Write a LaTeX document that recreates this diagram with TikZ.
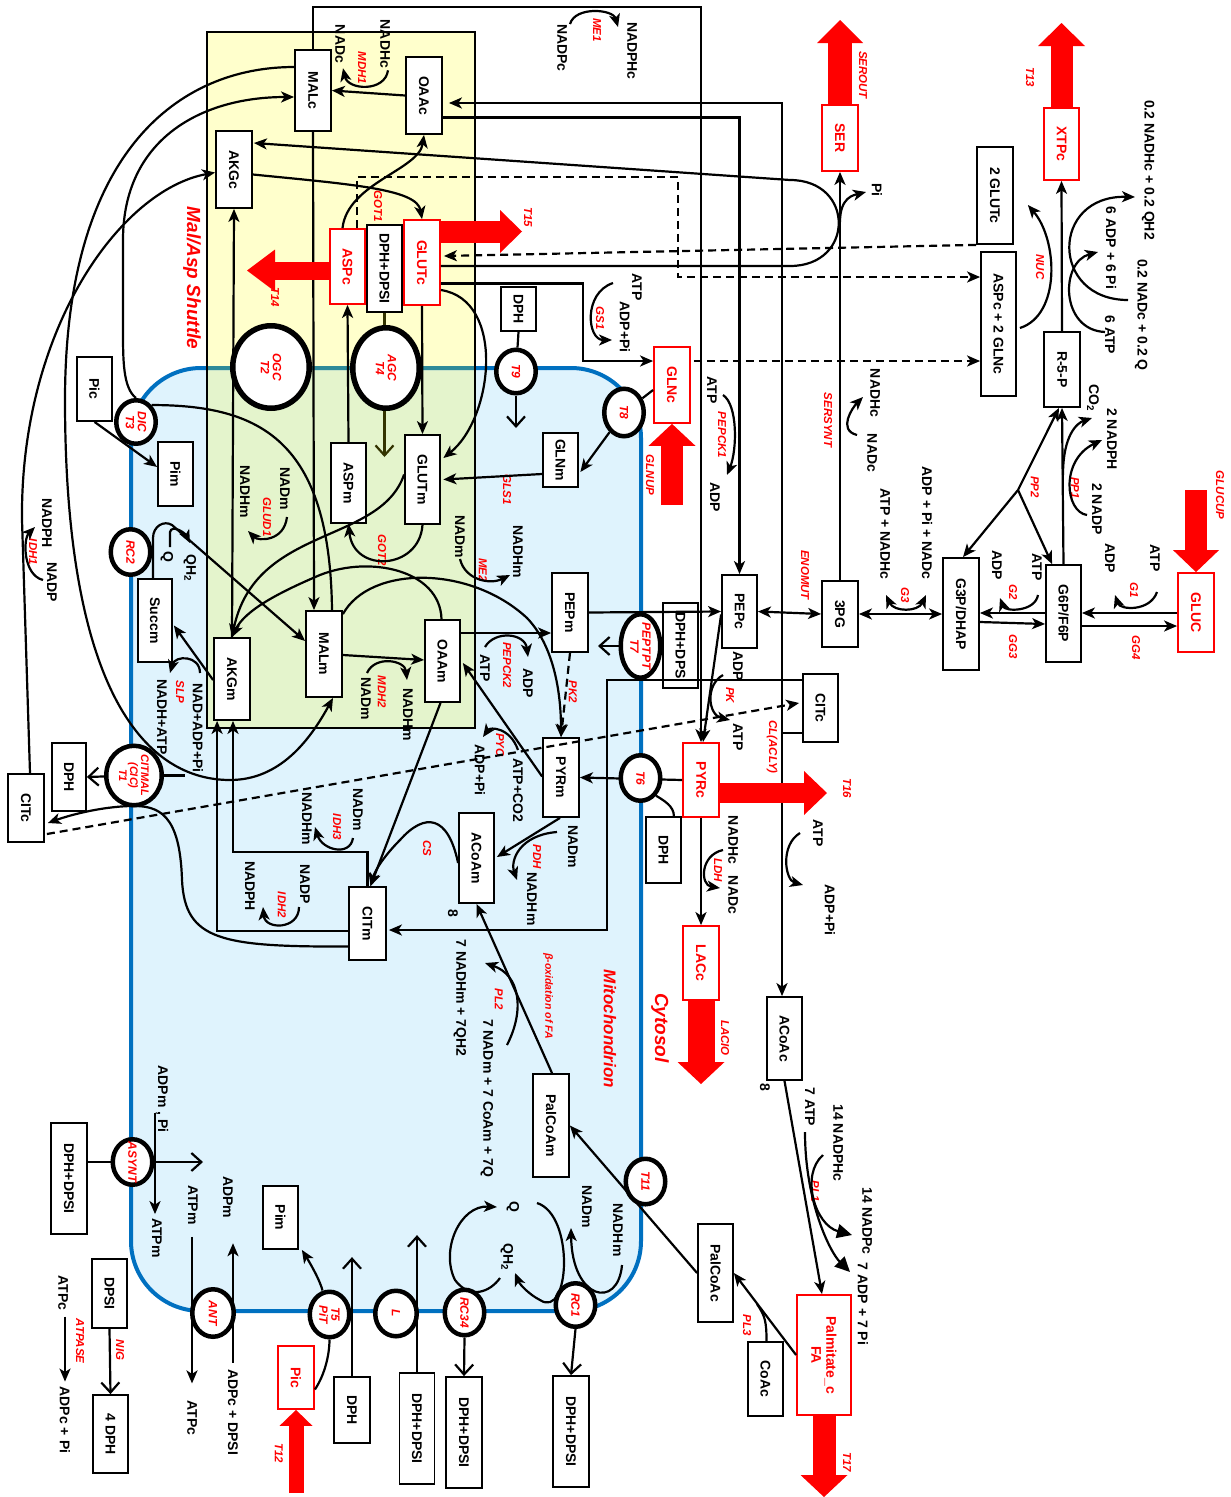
\documentclass[tikz,border=0pt]{standalone}
\usepackage{fontspec}
\setmainfont{Liberation Sans}
\usetikzlibrary{calc, positioning}
\usetikzlibrary{arrows.meta}
\usetikzlibrary{shapes.geometric}

\definecolor{shuttlebg}{HTML}{FFFFCC}
\definecolor{mitobg}{HTML}{DFF3FD}
\definecolor{overlapbg}{HTML}{E4F4CC}
\definecolor{mitoline}{HTML}{0070C0}
\definecolor{mixline}{HTML}{2E8A99}
\definecolor{olivetip}{HTML}{333300}

\pgfdeclarelayer{front}
\pgfsetlayers{main,front}

\tikzset{
  met/.style={draw, line width=1.8pt, fill=white, rotate=-90, inner sep=0pt,
    font=\bfseries\fontsize{14}{15}\selectfont},
  redmet/.style={met, draw=red, text=red},
  carrier/.style={ellipse, draw, line width=4.5pt, fill=white, inner sep=0pt},
  ctext/.style={rotate=-90, text=red, align=center, inner sep=0pt,
    font=\bfseries\itshape\fontsize{12}{12}\selectfont},
  lbl/.style={rotate=-90, inner sep=0pt, font=\bfseries\fontsize{14}{15}\selectfont},
  enz/.style={rotate=-90, inner sep=0pt, text=red,
    font=\bfseries\itshape\fontsize{11.5}{12}\selectfont},
  conn/.style={line width=2.2pt},
  arr/.style={conn, -{Stealth[length=13pt,width=11pt,inset=3.5pt]}},
  twoarr/.style={conn, {Stealth[length=13pt,width=11pt,inset=3.5pt]}-{Stealth[length=13pt,width=11pt,inset=3.5pt]}},
  openarr/.style={conn, -{Straight Barb[length=10pt,width=18pt]}},
  fatarr/.style={conn, -{Triangle[length=15pt,width=14pt]}},
  dasharr/.style={arr, dash pattern=on 8pt off 5pt},
  flux/.style args={#1/#2/#3}{red, line width=#1, -{Triangle[length=#2,width=#3,line width=0pt]}},
}

\begin{document}
\begin{tikzpicture}[x=1pt, y=-1pt]
\useasboundingbox (0,0) rectangle (1231,1497);

% compartments
\fill[shuttlebg] (207,32) rectangle (475,728);
\fill[mitobg, rounded corners=70pt] (131,368) rectangle (641,1311);
\fill[overlapbg] (207,368) rectangle (475,728);
\draw[mitoline, line width=4pt, rounded corners=70pt] (131,368) rectangle (641,1311);
\draw[mixline, line width=4pt] (207,368) -- (475,368);
\draw[line width=1.8pt] (207,32) rectangle (475,728);

\node[rotate=-90, text=red, font=\bfseries\itshape\fontsize{19}{20}\selectfont] (shuttle) at (192,278) {Mal/Asp Shuttle};
\node[rotate=-90, text=red, font=\bfseries\itshape\fontsize{17}{18}\selectfont] (mitoname) at (610,1029) {Mitochondrion};
\node[rotate=-90, text=red, font=\bfseries\itshape\fontsize{19}{20}\selectfont] (cytoname) at (660,1028) {Cytosol};

% metabolites
\node[met, minimum width=81pt, minimum height=36pt] (MALc) at (313,90.5) {MALc};
\node[met, minimum width=77pt, minimum height=36pt] (OAAc) at (424,95.5) {OAAc};
\node[met, minimum width=77pt, minimum height=36pt] (AKGc) at (234,169.5) {AKGc};
\node[redmet, minimum width=75pt, minimum height=35pt] (ASPc) at (347.5,266.5) {ASPc};
\node[met, minimum width=87pt, minimum height=35pt] (DPHDPSIa) at (384.5,268.5) {DPH+DPSI};
\node[redmet, minimum width=85pt, minimum height=36pt] (GLUTc) at (422,262.5) {GLUTc};
\node[met, minimum width=64pt, minimum height=35pt] (Pic) at (94.5,389) {Pic};
\node[met, minimum width=64pt, minimum height=35pt] (Pima) at (175.5,474) {Pim};
\node[met, minimum width=44pt, minimum height=35pt] (DPHa) at (518.5,309) {DPH};
\node[redmet, minimum width=76pt, minimum height=36pt] (GLNc) at (672,385) {GLNc};
\node[met, minimum width=54pt, minimum height=35pt] (GLNm) at (560.5,460) {GLNm};
\node[met, minimum width=89pt, minimum height=35pt] (GLUTm) at (422.5,479.5) {GLUTm};
\node[met, minimum width=80pt, minimum height=35pt] (ASPm) at (348.5,483) {ASPm};
\node[met, minimum width=86pt, minimum height=36pt] (MALm) at (324,654) {MALm};
\node[met, minimum width=82pt, minimum height=35pt] (OAAm) at (442.5,661) {OAAm};
\node[met, minimum width=82pt, minimum height=36pt] (AKGm) at (232,679) {AKGm};
\node[met, minimum width=83pt, minimum height=34pt] (Succm) at (155,620.5) {Succm};
\node[met, minimum width=68pt, minimum height=34pt] (DPHb) at (69,777) {DPH};
\node[met, minimum width=68pt, minimum height=36pt] (CITcL) at (26,808) {CITc};
\node[met, minimum width=73pt, minimum height=37pt] (CITm) at (367.5,923.5) {CITm};
\node[met, minimum width=79pt, minimum height=36pt] (PEPm) at (570,612.5) {PEPm};
\node[met, minimum width=79pt, minimum height=36pt] (PYRm) at (561,777.5) {PYRm};
\node[met, minimum width=90pt, minimum height=35pt] (ACoAm) at (476.5,858) {ACoAm};
\node[met, minimum width=85pt, minimum height=35pt] (DPHDPS) at (680.5,645.5) {DPH+DPS};
\node[met, minimum width=73pt, minimum height=35pt] (PEPc) at (739.5,611.5) {PEPc};
\node[redmet, minimum width=74pt, minimum height=36pt] (PYRc) at (701,780) {PYRc};
\node[met, minimum width=66pt, minimum height=35pt] (DPHc) at (663.5,850) {DPH};
\node[redmet, minimum width=74pt, minimum height=36pt] (LACc) at (701,963) {LACc};
\node[met, minimum width=68pt, minimum height=35pt] (CITcR) at (820.5,708) {CITc};
\node[met, minimum width=66pt, minimum height=36pt] (PG3) at (840,614) {3PG};
\node[met, minimum width=112pt, minimum height=36pt] (G3P) at (961,614) {G3P/DHAP};
\node[met, minimum width=97pt, minimum height=35pt] (G6P) at (1063.5,613.5) {G6P/F6P};
\node[redmet, minimum width=79pt, minimum height=36pt] (GLUC) at (1196,612.5) {GLUC};
\node[redmet, minimum width=66pt, minimum height=36pt] (SER) at (840,138) {SER};
\node[redmet, minimum width=72pt, minimum height=35pt] (XTPc) at (1061.5,144) {XTPc};
\node[met, minimum width=97pt, minimum height=36pt] (GLUT2) at (995,195.5) {2 GLUTc};
\node[met, minimum width=144pt, minimum height=35pt] (ASPGLN) at (998.5,324) {ASPc + 2 GLNc};
\node[met, minimum width=75pt, minimum height=36pt] (R5P) at (1062,369.5) {R-5-P};
\node[met, minimum width=111pt, minimum height=36pt] (DPHDPSIb) at (69,1178.5) {DPH+DPSI};
\node[met, minimum width=69pt, minimum height=35pt] (DPSI) at (109.5,1293.5) {DPSI};
\node[met, minimum width=78pt, minimum height=35pt] (DPH4) at (110.5,1434) {4 DPH};
\node[met, minimum width=63pt, minimum height=35pt] (Pimb) at (280.5,1217.5) {Pim};
\node[redmet, minimum width=63pt, minimum height=36pt] (Picb) at (296,1377.5) {Pic};
\node[met, minimum width=66pt, minimum height=36pt] (DPHd) at (352,1410) {DPH};
\node[met, minimum width=111pt, minimum height=35pt] (DPHDPSIc) at (417,1428.5) {DPH+DPSI};
\node[met, minimum width=111pt, minimum height=36pt] (DPHDPSId) at (464,1432.5) {DPH+DPSI};
\node[met, minimum width=111pt, minimum height=36pt] (DPHDPSIe) at (571,1431.5) {DPH+DPSI};
\node[met, minimum width=103pt, minimum height=36pt] (PalCoAm) at (551,1125.5) {PalCoAm};
\node[met, minimum width=98pt, minimum height=35pt] (PalCoAc) at (715.5,1273) {PalCoAc};
\node[met, minimum width=74pt, minimum height=35pt] (CoAc) at (765.5,1379) {CoAc};
\node[met, minimum width=83pt, minimum height=35pt] (ACoAc) at (784.5,1038.5) {ACoAc};
\node[redmet, align=center, minimum width=120pt, minimum height=54pt] (Palm) at (824,1355) {Palmitate\_c\\FA};

% carriers
\begin{pgfonlayer}{front}
\node[carrier, line width=5.5pt, minimum width=76.5pt, minimum height=82.5pt, label={[ctext]center:OGC\\T2}] (OGC) at (271,367) {};
\node[carrier, line width=5.5pt, minimum width=66.5pt, minimum height=80.5pt, label={[ctext]center:AGC\\T4}] (AGC) at (386,368) {};
\node[carrier, minimum width=39.5pt, minimum height=43.5pt, label={[ctext]center:DIC\\T3}] (DIC) at (136,422) {};
\node[carrier, minimum width=39.5pt, minimum height=45.5pt, label={[ctext]center:RC2}] (RC2) at (130.5,552) {};
\node[carrier, minimum width=55.5pt, minimum height=59.5pt, label={[ctext, font=\bfseries\itshape\fontsize{11}{11}\selectfont]center:CITMAL\\(CIC)\\T1}] (CITMAL) at (134,775.5) {};
\node[carrier, minimum width=39.5pt, minimum height=43.5pt, label={[ctext]center:T9}] (T9) at (516,371.5) {};
\node[carrier, minimum width=39.5pt, minimum height=47.5pt, label={[ctext]center:T8}] (T8) at (624,412.5) {};
\node[carrier, minimum width=39.5pt, minimum height=63.5pt, label={[ctext]center:PEPTPT\\T7}] (T7) at (640.5,646) {};
\node[carrier, minimum width=39.5pt, minimum height=45.5pt, label={[ctext]center:T6}] (T6) at (640.5,778) {};
\node[carrier, minimum width=39.5pt, minimum height=45.5pt, label={[ctext]center:T11}] (T11) at (645.5,1181.5) {};
\node[carrier, minimum width=39.5pt, minimum height=43.5pt, label={[ctext]center:RC1}] (RC1) at (575.5,1305) {};
\node[carrier, minimum width=39.5pt, minimum height=45.5pt, label={[ctext]center:RC34}] (RC34) at (464.5,1312.5) {};
\node[carrier, minimum width=41.5pt, minimum height=45.5pt, label={[ctext]center:L}] (Lk) at (396,1313.5) {};
\node[carrier, minimum width=39.5pt, minimum height=45.5pt, label={[ctext]center:T5\\PiT}] (T5) at (329.5,1314.5) {};
\node[carrier, minimum width=41.5pt, minimum height=47.5pt, label={[ctext]center:ANT}] (ANT) at (213,1313) {};
\node[carrier, minimum width=39.5pt, minimum height=45.5pt, label={[ctext]center:ASYNT}] (ASYNT) at (132.5,1162) {};
\end{pgfonlayer}

% side labels, cytosol top
\node[lbl] (nadhcA) at (385,44) {NADHc};
\node[lbl] (nadcA) at (340,44) {NADc};
\node[enz] (mdh1) at (362,68) {MDH1};
\node[lbl] (nadpcA) at (562,48) {NADPc};
\node[lbl] (nadphcA) at (632,51) {NADPHc};
\node[enz] (me1) at (597,30) {ME1};
\node[lbl] (atpA) at (637,287) {ATP};
\node[lbl] (adppiA) at (625,327) {ADP+Pi};
\node[enz] (gs1) at (600,318) {GS1};
\node[lbl] (atpB) at (712,390) {ATP};
\node[lbl] (adpB) at (715,497) {ADP};
\node[enz] (pepck1) at (722,435) {PEPCK1};
\node[enz] (got1) at (378,206) {GOT1};
\node[enz] (t14) at (275,297) {T14};
\node[enz] (t15) at (528,217) {T15};
\node[lbl] (piA) at (877,190) {Pi};
\node[enz] (serout) at (863,75) {SEROUT};
\node[enz] (sersynt) at (828,420) {SERSYNT};
\node[lbl] (nadhcS) at (875,393) {NADHc};
\node[lbl] (nadcS) at (872,453) {NADc};
\node[enz] (t13) at (1030,77) {T13};
\node[lbl] (nadhcq) at (1148,170) {0.2 NADHc + 0.2 QH2};
\node[lbl] (nadcq) at (1141,315) {0.2 NADc + 0.2 Q};
\node[lbl] (adp6) at (1111,248) {6 ADP + 6 Pi};
\node[lbl] (atp6) at (1110,335) {6 ATP};
\node[enz] (nuc) at (1040,267) {NUC};
\node[lbl] (co2) at (1093,398) {CO\textsubscript{2}};
\node[lbl] (nadph2) at (1112,439) {2 NADPH};
\node[lbl] (nadp2) at (1097,509) {2 NADP};
\node[enz] (pp1) at (1075,488) {PP1};
\node[enz] (pp2) at (1035,487) {PP2};
\node[enz] (glucup) at (1220,495) {GLUCUP};
\node[lbl] (atpG1) at (1155,558) {ATP};
\node[lbl] (adpG1) at (1110,558) {ADP};
\node[enz] (g1) at (1134,590) {G1};
\node[enz] (gg4) at (1136,648) {GG4};
\node[lbl] (atpG2) at (1037,567) {ATP};
\node[lbl] (adpG2) at (997,565) {ADP};
\node[enz] (g2) at (1013,592) {G2};
\node[enz] (gg3) at (1013,647) {GG3};
\node[lbl] (atpnadhc) at (885,534) {ATP + NADHc};
\node[lbl] (adppinadc) at (927,523) {ADP + Pi + NADc};
\node[enz] (g3) at (905,595) {G3};
\node[enz] (enomut) at (805,575) {ENOMUT};
\node[enz] (glnup) at (650,475) {GLNUP};
\node[enz] (gls1) at (507,490) {GLS1};

% side labels, mitochondrion
\node[lbl] (nadhmG) at (245,492) {NADHm};
\node[lbl] (nadmG) at (285,489) {NADm};
\node[enz] (glud1) at (267,517) {GLUD1};
\node[enz] (got2) at (382,550) {GOT2};
\node[lbl] (nadmM) at (460,537) {NADm};
\node[lbl] (nadhmM) at (518,552) {NADHm};
\node[enz] (me2) at (483,570) {ME2};
\node[enz] (pk2) at (573,692) {PK2};
\node[lbl] (atpP2) at (485,668) {ATP};
\node[lbl] (adpP2) at (528,683) {ADP};
\node[enz] (pepck2) at (507,665) {PEPCK2};
\node[lbl] (nadmM2) at (366,699) {NADm};
\node[lbl] (nadhmM2) at (408,715) {NADHm};
\node[enz] (mdh2) at (382,692) {MDH2};
\node[lbl] (qA) at (167,557) {Q};
\node[lbl] (qh2A) at (190,568) {QH\textsubscript{2}};
\node[lbl] (nadadp) at (198,728) {NAD+ADP+Pi};
\node[lbl] (nadhatp) at (162,717) {NADH+ATP};
\node[enz] (slp) at (180,692) {SLP};
\node[lbl] (nadphI1) at (47,523) {NADPH};
\node[lbl] (nadpI1) at (52,582) {NADP};
\node[enz] (idh1) at (33,552) {IDH1};
\node[lbl] (nadmI3) at (358,810) {NADm};
\node[lbl] (nadhmI3) at (307,819) {NADHm};
\node[enz] (idh3) at (337,827) {IDH3};
\node[lbl] (nadpI2) at (305,884) {NADP};
\node[lbl] (nadphI2) at (250,886) {NADPH};
\node[enz] (idh2) at (282,905) {IDH2};
\node[enz] (cs) at (427,848) {CS};
\node[lbl] (atpco2) at (518,790) {ATP+CO2};
\node[lbl] (adppiP) at (480,770) {ADP+Pi};
\node[enz] (pyc) at (500,745) {PYC};
\node[lbl] (nadmP) at (573,847) {NADm};
\node[lbl] (nadhmP) at (532,899) {NADHm};
\node[enz] (pdh) at (537,857) {PDH};
\node[lbl] (eightA) at (453,913) {8};
\node[lbl] (nadhm7) at (460,998) {7 NADHm + 7QH2};
\node[lbl] (nadm7) at (487,1098) {7 NADm + 7 CoAm + 7Q};
\node[enz] (pl2) at (499,999) {PL2};
\node[enz, font=\bfseries\itshape\fontsize{10.5}{11}\selectfont] (betaox) at (548,996) {β-oxidation of FA};
\node[lbl] (qR) at (513,1207) {Q};
\node[lbl] (qh2R) at (507,1257) {QH\textsubscript{2}};
\node[lbl] (nadmR) at (587,1207) {NADm};
\node[lbl] (nadhmR) at (618,1230) {NADHm};

% side labels, cytosol middle and bottom
\node[lbl] (adpK) at (738,666) {ADP};
\node[lbl] (atpK) at (738,737) {ATP};
\node[enz] (pk) at (730,695) {PK};
\node[enz] (cl) at (772,747) {CL(ACLY)};
\node[lbl] (atpCL) at (818,833) {ATP};
\node[lbl] (adppiCL) at (830,910) {ADP+Pi};
\node[lbl] (nadhcL) at (733,840) {NADHc};
\node[lbl] (nadcL) at (733,895) {NADc};
\node[enz] (ldh) at (718,870) {LDH};
\node[enz] (t16) at (847,788) {T16};
\node[enz] (lacio) at (725,1038) {LACIO};
\node[lbl] (eightB) at (765,1087) {8};
\node[lbl] (atp7) at (810,1107) {7 ATP};
\node[lbl] (nadphc14) at (838,1143) {14 NADPHc};
\node[lbl] (nadpc14) at (867,1221) {14 NADPc};
\node[lbl] (adp7) at (863,1304) {7 ADP + 7 Pi};
\node[enz] (pl1) at (815,1191) {PL1};
\node[enz] (pl3) at (747,1325) {PL3};
\node[enz] (t17) at (847,1462) {T17};
\node[lbl] (adpmpi) at (162,1099) {ADPm , Pi};
\node[lbl] (atpm1) at (157,1238) {ATPm};
\node[lbl] (atpmA) at (193,1205) {ATPm};
\node[lbl] (adpmA) at (228,1197) {ADPm};
\node[lbl] (atpcA) at (192,1418) {ATPc};
\node[lbl] (adpcA) at (233,1412) {ADPc + DPSI};
\node[lbl] (atpcB) at (63,1293) {ATPc};
\node[lbl] (adpcpi) at (65,1420) {ADPc + Pi};
\node[enz] (atpase) at (80,1341) {ATPASE};
\node[enz] (nig) at (120,1350) {NIG};
\node[enz] (t12) at (279,1453) {T12};

% free ends
\coordinate (clJ) at (782,733);
\coordinate (dashA) at (678,177);
\coordinate (loopA) at (790,266);
\coordinate (loopB) at (790,180);
\coordinate (gsJ) at (583,361);
\coordinate (agcTip) at (384.5,457);
\coordinate (t9Tip) at (516,428);
\coordinate (t7Tip) at (598,646);
\coordinate (citJ) at (607,930);
\coordinate (ppJ) at (1018,490);
\coordinate (pl3M) at (757,1304);
\coordinate (asyTip) at (203,1162);

% cytosol reactions
\draw[arr] (OAAc.south) -- (MALc.north);
\draw[arr] ($(nadhcA.east)+(3,2)$) .. controls +(-3,22) and +(5,22) .. ($(nadcA.east)+(3,5)$);
\draw[arr] (MALc.west) -- ++(0,-42) -| (PYRc.west);
\draw[arr] ($(nadpcA.west)+(8,0)$) .. controls +(5,-18) and +(-5,-18) .. ($(nadphcA.west)+(-14,5)$);
\draw[arr] ($(OAAc.north)+(0,22)$) -| (PEPc.west);
\draw[conn] ($(CITcR.south)+(0,25)$) -- (clJ);
\draw[arr] (clJ) |- ($(OAAc.north)+(6,7.5)$);
\draw[arr] (clJ) -- (clJ |- ACoAc.west);
\draw[arr] ($(AKGc.north)+(0,5)$) .. controls +(100,10) and +(-5,-30) .. (GLUTc.west);
\draw[arr] ($(ASPc.west)+(-5,0)$) .. controls +(5,-45) and +(-5,35) .. (OAAc.east);
\draw[dasharr] ($(ASPc.west)+(9.5,0)$) |- (dashA) |- ($(ASPGLN.south)+(0,-47)$);
\draw[dasharr] (GLUT2.south east) -- ($(GLUTc.north)+(3,-6.5)$);
\draw[dasharr] ($(GLNc.north)+(3,-24)$) -- ($(ASPGLN.south)+(0,37)$);
\draw[arr] ($(GLUTc.north)+(0,3.5)$) -- (loopA) .. controls +(65,0) and +(65,0) .. (loopB) -- ($(AKGc.north)+(1,-26.5)$);
\draw[arr] ($(GLUTc.north)+(0,21)$) -| (gsJ) -- ($(GLNc.south)+(0,-24)$);
\draw[arr] ($(atpA)+(-24,-4)$) .. controls +(-30,10) and +(-25,0) .. ($(adppiA)+(-13,13)$);
\draw[arr] ($(atpB)+(11,5)$) .. controls +(15,10) and +(10,-25) .. ($(adpB)+(12,-22)$);
\draw[arr] (PG3.west) -- (SER.east);
\draw[arr] ($(piA)+(-37,32)$) .. controls +(0,-25) and +(-12,3) .. ($(piA)+(-11,2)$);
\draw[arr] ($(nadcS)+(-15,-18)$) .. controls +(-20,-5) and +(-10,10) .. ($(nadhcS)+(-12,4)$);
\draw[arr] (R5P.west) -- (XTPc.east);
\draw[arr] ($(ASPGLN.north)+(3,4)$) .. controls +(41,-13) and +(30,35) .. ($(GLUT2.north)+(14,9.5)$);
\draw[arr] ($(nadcq)+(-13,-15)$) .. controls +(-78,0) and +(-85,-2) .. ($(nadhcq)+(-13,27)$);
\draw[arr] ($(atp6)+(-5,-3)$) .. controls +(-45,-2) and +(-38,10) .. ($(adp6)+(-13,4)$);
\draw[arr] (G6P.west) -- (R5P.east);
\draw[arr] (ppJ) -- ($(R5P.east)+(-3,0)$);
\draw[arr] (ppJ) -- ($(G3P.west)+(2,0)$);
\draw[arr] (ppJ) -- ($(G6P.south west)+(7,0)$);
\draw[arr] ($(nadp2)+(-34,-34)$) .. controls +(0,-40) and +(-15,5) .. ($(co2)+(-1,20)$);
\draw[arr] ($(nadp2)+(-10,6)$) .. controls (1065,512) and (1060,460) .. ($(nadph2)+(-10,1)$);
\draw[arr] ($(GLUC.south)+(0,0.5)$) -- ($(G6P.north)+(0,-0.5)$);
\draw[arr] ($(G6P.north)+(0,12.5)$) -- ($(GLUC.south)+(0,13.5)$);
\draw[arr] ($(atpG1)+(2,34)$) .. controls +(-7,20) and +(5,15) .. ($(adpG1)+(5,37)$);
\draw[arr] ($(G6P.south)+(0,-0.5)$) -- ($(G3P.north)+(0,-1)$);
\draw[arr] ($(G3P.north)+(0,8)$) -- ($(G6P.south)+(0,10.5)$);
\draw[arr] ($(atpG2)+(1,28)$) .. controls +(-3,17) and +(5,14) .. ($(adpG2)+(3,33)$);
\draw[twoarr] (PG3.north) -- (G3P.south);
\draw[twoarr] ($(adppinadc)+(-1,72)$) .. controls +(-8,17) and +(8,17) .. ($(atpnadhc)+(1,61)$);
\draw[twoarr] (PEPc.north) -- (PG3.south);
\draw[arr] ($(PEPc.south)+(0,3)$) -- ($(PYRc.west)+(2,0)$);
\draw[arr] ($(adpK)+(-15,9)$) .. controls (705,685) and (708,715) .. ($(atpK)+(-8,-17)$);
\draw[arr] (PYRc.east) -- (LACc.west);
\draw[arr] ($(nadhcL)+(-10,10)$) .. controls (700,855) and (700,885) .. ($(nadcL)+(-13,-7)$);
\draw[arr] ($(atpCL)+(-18,0)$) .. controls (780,845) and (785,880) .. ($(adppiCL)+(-27,-25)$);
\draw[conn] (T6.south east) .. controls +(8,5) and +(0,-10) .. ($(DPHc.north west)+(-8,0)$);
\draw[arr] (ACoAc.east) -- ($(Palm.west)+(-2,0)$);
\draw[fatarr] ($(nadphc14)+(-15,12)$) .. controls +(-23,20) and +(-37,-10) .. ($(nadpc14)+(-15,14)$);
\draw[fatarr] ($(atp7)+(-5,25)$) .. controls +(0,70) and +(-20,-20) .. ($(adp7)+(-13,-32)$);
\draw[arr] (Palm.south) -- (PalCoAc.north);
\draw[conn] ($(CoAc.west)+(1,0)$) .. controls +(0,-20) and +(8,12) .. (pl3M);
\draw[arr] (PalCoAc.south) -- (PalCoAm.north);

% transport and mitochondrial reactions
\draw[arr] (AKGm.west) -- (AKGc.east);
\draw[arr] (MALc.east) -- ($(MALm.west)+(-10,0)$);
\draw[arr] (ASPm.west) -- (ASPc.east);
\draw[arr] (GLUTc.east) -- (GLUTm.west);
\draw[openarr, olivetip] (DPHDPSIa.east) -- (agcTip);
\draw[conn] (DPHa.east) -- (T9);
\draw[openarr] (T9.south) -- (t9Tip);
\draw[arr] ($(GLUTc.north)+(0,27.5)$) .. controls +(65,10) and +(50,-40) .. ($(GLUTm.north)+(2.5,-21.5)$);
\draw[conn] ($(GLNc.south)+(0,5)$) -- (T8);
\draw[arr] (T8) -- ($(GLNm.north)+(1.5,12)$);
\draw[arr] ($(GLNm.south)+(0,14)$) -- ($(GLUTm.north)+(2.5,0)$);
\draw[arr] ($(MALc.south)+(0,-23.5)$) .. controls (180,67) and (65,150) .. (65,400) .. controls (65,700) and (150,780) .. (230,780) .. controls (280,780) and (310,740) .. ($(MALm.east)+(9,0)$);
\draw[arr] (DIC.north) .. controls +(-13,-10) and +(0,30) .. (123,330) -- (123,240) .. controls (123,140) and (200,97) .. ($(MALc.south)+(0,6.5)$);
\draw[conn] (DIC.north east) .. controls (260,405) and (330,440) .. ($(MALm.west)+(8,0)$);
\draw[arr] (Pic.east) -- ($(Pima.south)+(0,-7)$);
\draw[arr] ($(Succm.west)+(-2,0)$) -- ++(0,-40) .. controls +(0,-12) and +(-8,-5) .. (172,525) -- ($(MALm.south)+(0,-13)$);
\draw[arr] ($(qA)+(3,-10)$) -- ++(0,-15) .. controls +(2,-8) and +(-5,-10) .. ($(qh2A)+(0,-25)$);
\draw[arr] ($(AKGm.south)+(0,1)$) -- ($(Succm.north)+(1,5)$);
\draw[arr] ($(nadadp)+(2,-55)$) .. controls +(0,-18) and +(5,-18) .. ($(nadhatp)+(8,-44)$);
\draw[openarr] (CITMAL) -- (DPHb.north);
\draw[conn] (CITMAL.east) -- ++(21,0);
\draw[arr] ($(CITm.south)+(0,23)$) .. controls (220,947) and (185,940) .. (182,880) .. controls (180,815) and (160,805) .. (130,806) .. controls (100,807) and (70,815) .. ($(CITcL.north)+(3,15)$);
\draw[arr] ($(CITcL.west)+(4,0)$) -- (22,520) .. controls (20,330) and (120,190) .. ($(AKGc.south)+(0,3)$);
\draw[arr] ($(nadpI1)+(-9,-2)$) .. controls +(-20,-5) and +(-12,12) .. ($(nadphI1)+(-12,4)$);
\draw[arr] (CITm.west) -- ++(0,-34) -| ($(AKGm.east)+(1,0)$);
\draw[arr] ($(CITm.south)+(0,7.5)$) -| ($(AKGm.south east)+(4,0)$);
\draw[arr] ($(nadmI3)+(-5,28)$) .. controls +(-3,19) and +(7,23) .. ($(nadhmI3)+(8,8)$);
\draw[arr] ($(nadpI2)+(-6,23)$) .. controls +(0,23) and +(2,23) .. ($(nadphI2)+(13,21)$);
\draw[arr] ($(OAAm.east)+(-2,0)$) -- ($(CITm.west)+(3,0)$);
\draw[arr] ($(ACoAm.south)+(0,5)$) .. controls (448,815) and (425,812) .. (400,840) .. controls (385,855) and (375,870) .. ($(CITm.west)+(3,0)$);
\draw[arr] ($(PYRm.south)+(0,-1)$) -- ($(OAAm.north)+(2,2)$);
\draw[arr] ($(atpco2)+(0,-40)$) .. controls +(-8,-23) and +(7,-10) .. ($(adppiP)+(3,-33)$);
\draw[arr] ($(OAAm.north)+(0,-28)$) -- ($(PEPm.south)+(0,20.5)$);
\draw[arr] ($(atpP2)+(0,-21)$) .. controls +(10,-17) and +(-3,-24) .. ($(adpP2)+(0,-26)$);
\draw[arr] (PEPm.north) -- (PEPc.south);
\draw[openarr] (T7.west) -- (t7Tip);
\draw[dasharr] (PEPm.east) -- (PYRm.west);
\draw[arr] ($(MALm.north west)+(0,4)$) .. controls (370,565) and (470,565) .. (527,618) .. controls (553,645) and (561,690) .. (PYRm.west);
\draw[arr] ($(nadmM)+(0,22)$) .. controls +(5,21) and +(-20,10) .. ($(nadhmM)+(-8,23)$);
\draw[arr] ($(OAAm.west)+(-1,0)$) .. controls (440,570) and (370,555) .. (320,575) .. controls (280,592) and (245,610) .. (AKGm.west);
\draw[arr] ($(GLUTm.south)+(0,-5)$) .. controls (380,545) and (255,525) .. (AKGm.west);
\draw[arr] ($(nadmG)+(2,28)$) .. controls +(-3,25) and +(10,10) .. ($(nadhmG)+(3,39)$);
\draw[arr] (GLUTm.east) .. controls +(-3,45) and +(5,50) .. (ASPm.east);
\draw[arr] ($(MALm.north)+(0,1)$) -- ($(OAAm.south)+(0,-1)$);
\draw[arr] ($(nadmM2)+(1,-26)$) .. controls +(8,-18) and +(-2,-20) .. ($(nadhmM2)+(-1,-35)$);
\draw[arr] ($(CITcR.south)+(0,-28)$) -| (citJ) -- ($(CITm.north)+(2,6.5)$);
\draw[dasharr] ($(CITcL.north)+(2,26)$) -- ($(CITcR.south)+(-3,-5)$);
\draw[arr] (PYRc.south) -- (PYRm.north);
\draw[arr] ($(PYRm.east)+(-1,0)$) -- ($(ACoAm.north)+(2,-1)$);
\draw[arr] ($(nadmP)+(-16,-15)$) .. controls (520,835) and (510,860) .. ($(nadhmP)+(-15,-19)$);
\draw[arr] ($(PalCoAm.west)+(1,0)$) -- (ACoAm.east);
\draw[arr] ($(nadm7)+(20,-53)$) .. controls (525,1010) and (520,975) .. ($(nadhm7)+(25,-35)$);

% respiratory chain and membrane carriers
\draw[openarr] (RC34.south) -- (DPHDPSId.west);
\draw[openarr] (RC1.south) -- (DPHDPSIe.west);
\draw[openarr] (DPHDPSIc.west) -- ++(0,-137);
\draw[openarr] (DPHd.west) -- ++(0,-119);
\draw[arr] ($(nadhmR)+(4,35)$) .. controls (618,1310) and (572,1300) .. ($(nadmR)+(-16,21)$);
\draw[arr] ($(qR)+(24,-4)$) .. controls (575,1215) and (570,1320) .. (540,1300) .. controls (530,1295) and (520,1285) .. ($(qh2R)+(8,16)$);
\draw[arr] ($(qh2R)+(-7,21)$) .. controls (490,1292) and (470,1300) .. (455,1280) .. controls (440,1250) and (460,1205) .. ($(qR)+(-16,0)$);
\draw[conn] ($(Picb.north)+(0,12)$) .. controls +(10,-15) and +(0,15) .. (T5.south);
\draw[arr] ($(T5.north)+(-7,1)$) .. controls +(-3,-12) and +(5,8) .. ($(Pimb.north east)+(3,0)$);
\draw[arr] ($(atpmA.east)+(-1,12)$) -- ($(atpcA.west)+(0,-17)$);
\draw[arr] ($(adpcA.west)+(0,-6)$) -- ($(adpmA.east)+(5,25)$);
\draw[conn] ($(DPHDPSIb.north)+(0,-16.5)$) -- (ASYNT);
\draw[openarr] (ASYNT) -- (asyTip);
\draw[arr] ($(adpmpi)+(-7,14)$) -- ($(atpm1.west)+(-2,-4)$);
\draw[openarr] (DPSI.east) -- (DPH4.west);
\draw[arr] ($(atpcB.east)+(2,6)$) -- ($(adpcpi.west)+(0,-5)$);

% exchange fluxes
\begin{pgfonlayer}{front}
\coordinate (t14Tip) at (247,270.5);
\coordinate (t15Tip) at (522,231.5);
\coordinate (serTip) at (840,20);
\coordinate (t13Tip) at (1061.5,23);
\coordinate (glucSrc) at (1196,490);
\coordinate (glnSrc) at (672,505);
\coordinate (t16Tip) at (827,793);
\coordinate (lacTip) at (701,1084);
\coordinate (picSrc) at (296,1493);
\coordinate (t17Tip) at (824,1497);
\draw[flux=18pt/28pt/42pt] ($(ASPc.south)+(0,4)$) -- (t14Tip);
\draw[flux=22pt/22pt/43pt] ($(GLUTc.north)+(0,-31)$) -- (t15Tip);
\draw[flux=24pt/23pt/46pt] (SER.west) -- (serTip);
\draw[flux=22pt/23pt/47pt] (XTPc.west) -- (t13Tip);
\draw[flux=22pt/22pt/46pt] (glucSrc) -- (GLUC.west);
\draw[flux=22pt/22pt/47pt] (glnSrc) -- (GLNc.east);
\draw[flux=20pt/23pt/44pt] ($(PYRc.north)+(0,13)$) -- (t16Tip);
\draw[flux=27pt/22pt/47pt] (LACc.east) -- (lacTip);
\draw[flux=15pt/16pt/33pt] (picSrc) -- (Picb.east);
\draw[flux=23pt/22pt/47pt] (Palm.east) -- (t17Tip);
\end{pgfonlayer}
\end{tikzpicture}
\end{document}
